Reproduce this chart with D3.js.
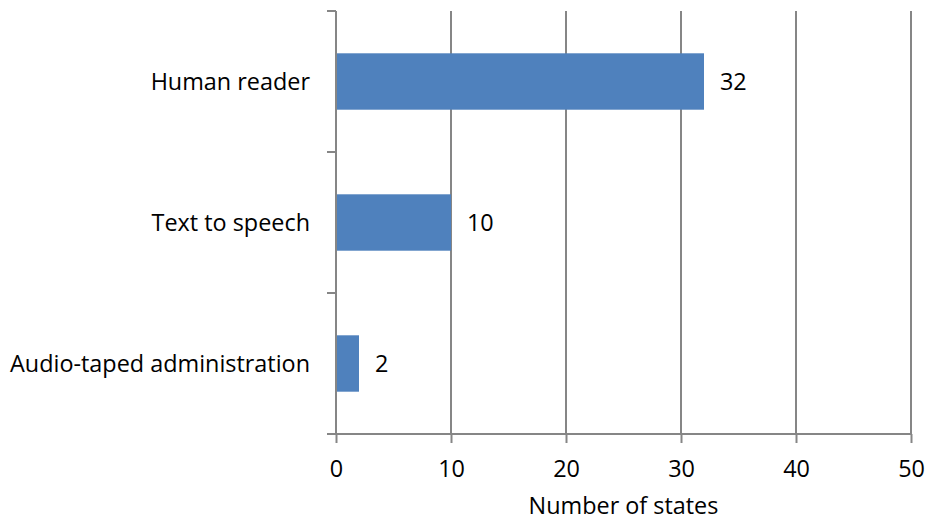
<!DOCTYPE html>
<html>
<head>
<meta charset="utf-8">
<script src="https://cdn.jsdelivr.net/npm/d3@7"></script>
<style>
  html, body { margin: 0; padding: 0; background: #fff; }
  text { font-family: "Open Sans", "Lato", sans-serif; fill: #000; }
</style>
</head>
<body>
<svg id="chart" width="927" height="520"></svg>
<script>
// Reading accommodations: number of states allowing each method
const categories = ["Human reader", "Text to speech", "Audio-taped administration"];
const values = [32, 10, 2];
const xTicks = [0, 10, 20, 30, 40, 50];
const xTitle = "Number of states";

const svg = d3.select("#chart");
const margin = { left: 336, right: 16, top: 11, bottom: 86 };
const W = 927, H = 520;
const gridColor = "#868686";
const barColor = "#4F81BD";
const fontSize = 23.4;

const x = d3.scaleLinear().domain([0, 50]).range([margin.left, W - margin.right]);
const y = d3.scaleBand().domain(categories)
  .range([margin.top, H - margin.bottom])
  .paddingInner(0.6).paddingOuter(0.3);

// vertical gridlines
svg.append("g").selectAll("line").data(xTicks.slice(1)).join("line")
  .attr("x1", d => x(d)).attr("x2", d => x(d))
  .attr("y1", margin.top).attr("y2", H - margin.bottom)
  .attr("stroke", gridColor).attr("stroke-width", 2);

// bars
svg.append("g").selectAll("rect").data(categories).join("rect")
  .attr("x", x(0))
  .attr("y", d => y(d))
  .attr("width", (d, i) => x(values[i]) - x(0))
  .attr("height", y.bandwidth())
  .attr("fill", barColor);

// value labels
svg.append("g").selectAll("text").data(categories).join("text")
  .attr("x", (d, i) => x(values[i]) + 16)
  .attr("y", d => y(d) + y.bandwidth() / 2)
  .attr("dy", "0.36em")
  .style("font-size", fontSize + "px")
  .text((d, i) => values[i]);

// x axis
const xAxis = svg.append("g")
  .attr("transform", `translate(0,${H - margin.bottom})`)
  .call(d3.axisBottom(x).tickValues(xTicks).tickSize(9).tickPadding(17).tickSizeOuter(0));
xAxis.select(".domain").attr("stroke", gridColor).attr("stroke-width", 2)
  .attr("d", `M${margin.left - 9},0H${W - margin.right}`);
xAxis.selectAll(".tick line").attr("stroke", gridColor).attr("stroke-width", 2);
xAxis.selectAll(".tick text").style("font-size", fontSize + "px").style("font-family", null);

// y axis: ticks on category boundaries
const yAxisG = svg.append("g");
const step = y.step();
const bounds = d3.range(categories.length + 1).map(i => margin.top + i * step);
yAxisG.append("line")
  .attr("x1", x(0)).attr("x2", x(0))
  .attr("y1", margin.top).attr("y2", H - margin.bottom)
  .attr("stroke", gridColor).attr("stroke-width", 2);
yAxisG.selectAll("line.tk").data(bounds).join("line").attr("class", "tk")
  .attr("x1", x(0) - 9).attr("x2", x(0))
  .attr("y1", d => d).attr("y2", d => d)
  .attr("stroke", gridColor).attr("stroke-width", 2);
yAxisG.selectAll("text").data(categories).join("text")
  .attr("x", x(0) - 26)
  .attr("y", d => y(d) + y.bandwidth() / 2)
  .attr("dy", "0.36em")
  .attr("text-anchor", "end")
  .style("font-size", fontSize + "px")
  .text(d => d);

// axis title
svg.append("text")
  .attr("x", (x(0) + x(50)) / 2)
  .attr("y", 514)
  .attr("text-anchor", "middle")
  .style("font-size", fontSize + "px")
  .text(xTitle);
</script>
</body>
</html>
